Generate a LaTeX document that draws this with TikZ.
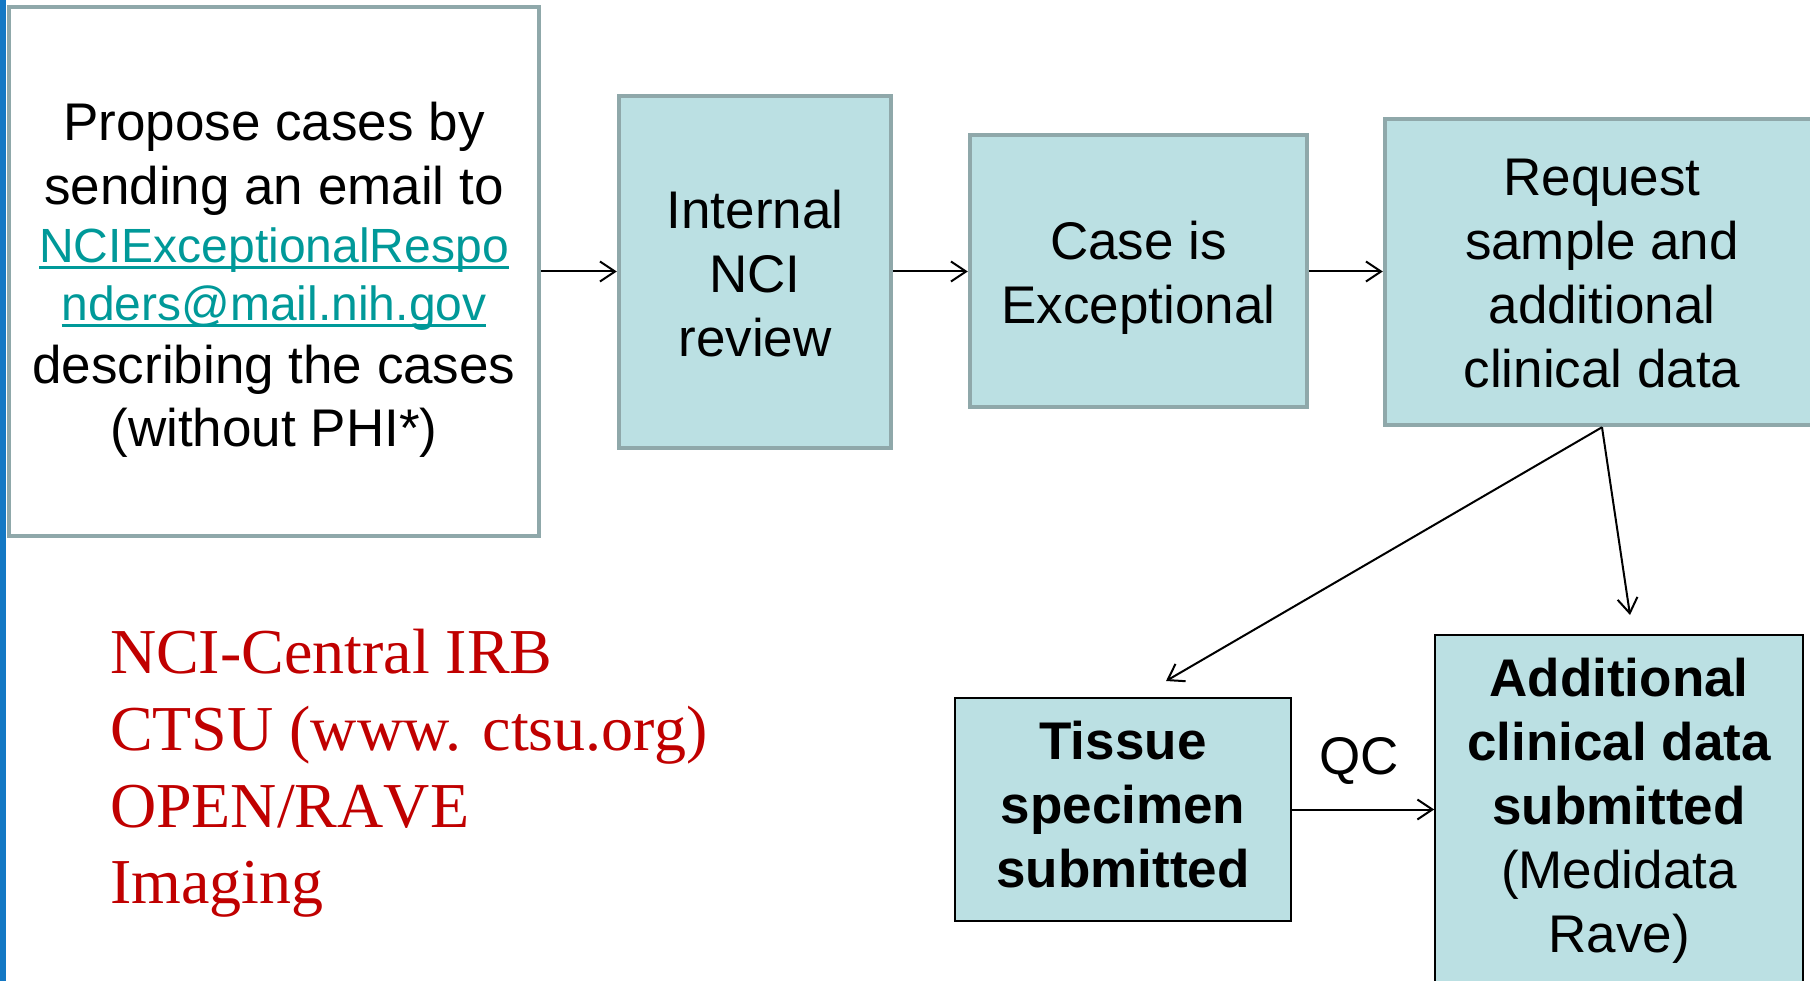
\documentclass[tikz,border=0pt]{standalone}
\usepackage{fontspec}
\setmainfont{Liberation Sans}
\newfontfamily\redserif{Liberation Serif}
\usetikzlibrary{arrows.meta}
\definecolor{boxfill}{RGB}{187,224,227}
\definecolor{boxline}{RGB}{143,168,170}
\definecolor{linkteal}{RGB}{0,153,153}
\definecolor{redtext}{RGB}{192,0,0}
\definecolor{sidebar}{RGB}{20,120,196}
\newcommand\linkul[1]{\setbox0\hbox{#1}\rlap{\rule[-7pt]{\wd0}{3pt}}\box0}
\newcommand\linkfont{\fontsize{48}{58}\selectfont}
\begin{document}
\begin{tikzpicture}[x=1pt,y=-1pt,
  every node/.style={inner sep=0pt, outer sep=auto},
  bigtext/.style={font=\fontsize{53}{64}\selectfont, align=center},
  softbox/.style={draw=boxline, line width=4.5pt, fill=boxfill},
  plainbox/.style={draw=black, line width=1.6pt, fill=boxfill},
  flow/.style={draw=black, line width=2pt, -{Straight Barb[length=15pt,width=20pt,line width=2pt]}},
  redline/.style={font=\redserif\fontsize{64}{77}\selectfont, text=redtext, anchor=base west}
]
\clip (0,0) rectangle (1810,981);
\fill[white] (0,0) rectangle (1810,981);
\fill[sidebar] (0,0) rectangle (6,981);

% boxes
\node[softbox, fill=white, minimum width=530pt, minimum height=529pt] (propose) at (274,271.5) {};
\node[softbox, minimum width=272pt, minimum height=352pt] (review) at (755,272) {};
\node[softbox, minimum width=337pt, minimum height=272pt] (exceptional) at (1138.5,271) {};
\node[softbox, minimum width=434pt, minimum height=306pt] (request) at (1602,272) {};
\node[plainbox, minimum width=336pt, minimum height=223pt] (tissue) at (1123,809.5) {};
\node[plainbox, minimum width=368pt, minimum height=370pt, anchor=north] (addl) at (1619,634) {};

% box texts
\node[bigtext, yshift=-8pt] (proposetext) at (propose.center)
  {Propose cases by\\sending an email to\\[-6pt]
   {\linkfont\color{linkteal}\linkul{NCIExceptionalRespo}}\\[-6pt]
   {\linkfont\color{linkteal}\linkul{nders@mail.nih.gov}}\\[-1pt]
   describing the cases\\[-1pt](without PHI*)};
\node[bigtext, yshift=-2pt] (reviewtext) at (review.center) {Internal\\NCI\\review};
\node[bigtext, yshift=-7pt] (exceptionaltext) at (exceptional.center) {Case is\\Exceptional};
\node[bigtext, yshift=-2pt] (requesttext) at (request.center)
  {Request\\sample and\\additional\\clinical data};
\node[bigtext, yshift=5pt] (tissuetext) at (tissue.center)
  {\bfseries Tissue\\\bfseries specimen\\\bfseries submitted};
\node[bigtext] (addltext) at (1619,811)
  {\bfseries Additional\\\bfseries clinical data\\\bfseries submitted\\(Medidata\\Rave)};
\node[font=\fontsize{53}{64}\selectfont] (qc) at (1359,761) {QC};

\coordinate (tissuetip) at (1166,681);
\coordinate (datatip) at (1630,615);

\draw[flow] (propose.east) -- (propose.east -| review.west);
\draw[flow] (review.east |- propose.east) -- (propose.east -| exceptional.west);
\draw[flow] (exceptional.east |- propose.east) -- (propose.east -| request.west);
\draw[flow] (request.south) -- (tissuetip);
\draw[flow] (request.south) -- (datatip);
\draw[flow] (tissue.east) -- (tissue.east -| addl.west);

\node[redline] (irb) at (110,673) {NCI-Central IRB};
\node[redline] (ctsu) at (110,750) {CTSU (www. ctsu.org)};
\node[redline] (openrave) at (110,827) {OPEN/RA\kern0pt VE};
\node[redline] (imaging) at (110,903) {Imaging};
\end{tikzpicture}
\end{document}
